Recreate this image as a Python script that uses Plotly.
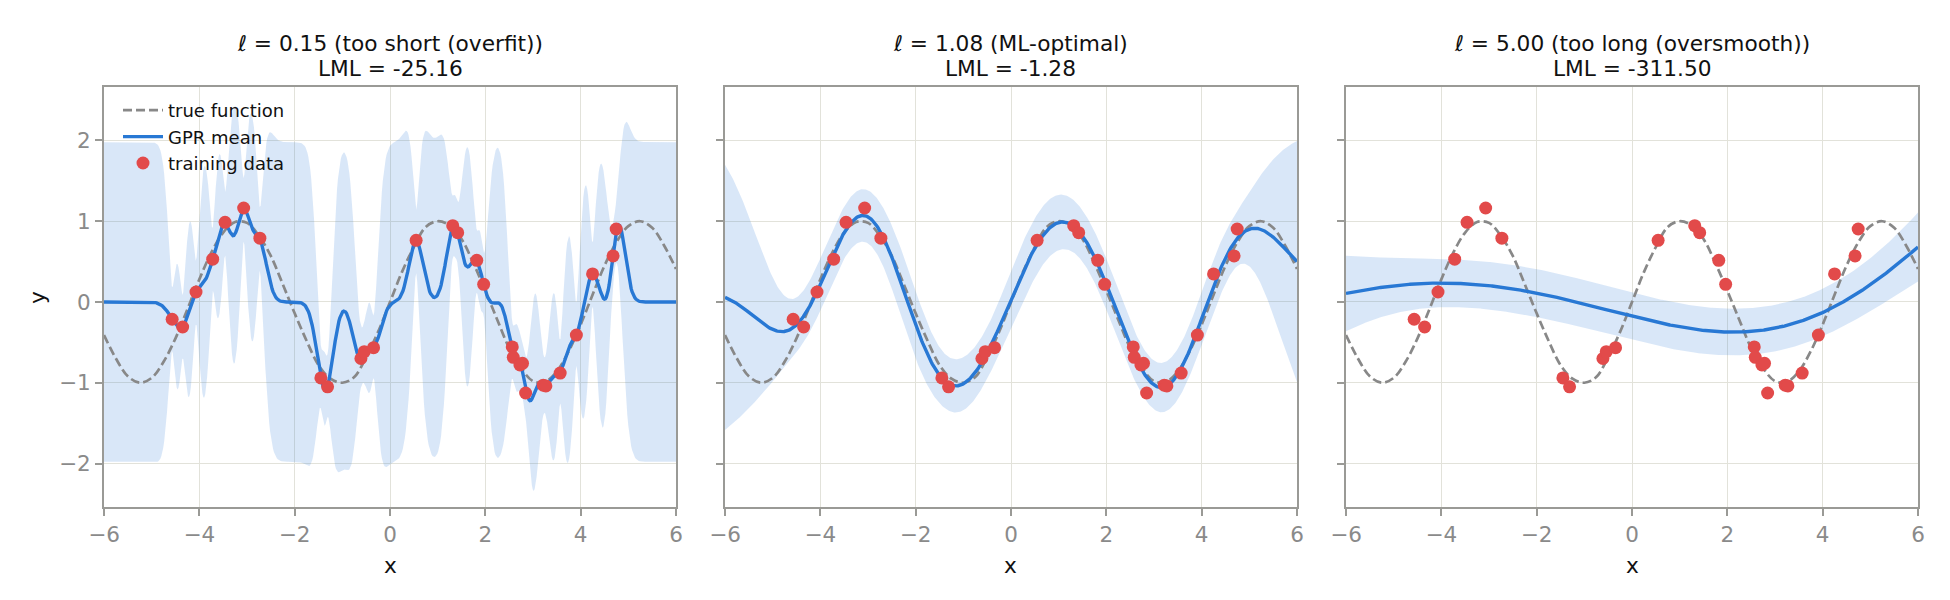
import numpy as np
import plotly.graph_objects as go

# ---- data ----
x_train = [-4.57, -4.35, -4.07, -3.72, -3.46, -3.07, -2.73, -1.45, -1.31, -0.61, -0.54, -0.345,
           0.548, 1.316, 1.42, 1.82, 1.965, 2.565, 2.586, 2.726, 2.78, 2.845, 3.215, 3.27,
           3.57, 3.91, 4.25, 4.68, 4.745]
y_train = [-0.214, -0.31, 0.124, 0.53, 0.987, 1.164, 0.79, -0.94, -1.05, -0.70, -0.615, -0.566,
           0.764, 0.945, 0.858, 0.516, 0.219, -0.557, -0.685, -0.78, -0.76, -1.127, -1.03, -1.04,
           -0.88, -0.41, 0.347, 0.57, 0.904]

# true function, values read at x = -6 .. 6 step 0.25
x_true = [-6.0 + 0.25 * i for i in range(49)]
y_true = [-0.41, -0.70, -0.92, -1.00, -0.94, -0.74, -0.45, -0.09, 0.28, 0.61, 0.86, 0.99,
          0.98, 0.82, 0.57, 0.22, -0.14, -0.48, -0.78, -0.95, -1.00, -0.93, -0.68, -0.37,
          0.00, 0.37, 0.68, 0.93, 1.00, 0.95, 0.78, 0.48, 0.14, -0.22, -0.57, -0.82,
          -0.98, -0.99, -0.86, -0.61, -0.28, 0.09, 0.45, 0.74, 0.94, 1.00, 0.92, 0.70, 0.41]

length_scales = [0.15, 1.08, 5.00]
panel_notes = ["too short (overfit)", "ML-optimal", "too long (oversmooth)"]
lml_values = ["-25.16", "-1.28", "-311.50"]
noise_var = 0.02
x_ticks = [-6, -4, -2, 0, 2, 4, 6]
y_ticks = [-2, -1, 0, 1, 2]

# ---- GP posterior (unit-variance RBF + white noise) from the training data ----
X = np.array(x_train)
Y = np.array(y_train)
xs = np.linspace(-6, 6, 600)


def gp(ls, nv):
    K = np.exp(-0.5 * (X[:, None] - X[None, :]) ** 2 / ls ** 2) + nv * np.eye(len(X))
    L = np.linalg.cholesky(K)
    a = np.linalg.solve(L.T, np.linalg.solve(L, Y))
    Ks = np.exp(-0.5 * (X[:, None] - xs[None, :]) ** 2 / ls ** 2)
    mu = Ks.T @ a
    v = np.linalg.solve(L, Ks)
    var = 1.0 - np.sum(v ** 2, axis=0) + nv
    sd = np.sqrt(np.maximum(var, 1e-12))
    return mu, sd


W, H = 1950, 600
left_px = [104, 725, 1346]
pw = 572
top_px, bot_px = 86.7, 506.7

BAND = "rgba(42,122,214,0.18)"
MEAN = "#2878d4"
PTS = "#e24a4a"
TRUE = "#888888"
GRID = "#e2e2da"
SPINE = "#9a9a96"
TICK = "#8a8a8a"
FONT = "DejaVu Sans"
TXT = "#111111"

fig = go.Figure()
for i, ls in enumerate(length_scales):
    mu, sd = gp(ls, noise_var)
    ax = "" if i == 0 else str(i + 1)
    xa, ya = "x" + ax, "y" + ax
    up = mu + 1.96 * sd
    lo = mu - 1.96 * sd
    fig.add_trace(go.Scatter(x=xs, y=up, mode="lines", line=dict(width=0, color=BAND),
                             showlegend=False, hoverinfo="skip", xaxis=xa, yaxis=ya))
    fig.add_trace(go.Scatter(x=xs, y=lo, mode="lines", line=dict(width=0, color=BAND),
                             fill="tonexty", fillcolor=BAND, showlegend=False,
                             hoverinfo="skip", xaxis=xa, yaxis=ya))
    fig.add_trace(go.Scatter(x=x_true, y=y_true, mode="lines", line_shape="spline",
                             line=dict(color=TRUE, width=2.7, dash="9px,4px"),
                             name="true function", showlegend=(i == 0), xaxis=xa, yaxis=ya))
    fig.add_trace(go.Scatter(x=xs, y=mu, mode="lines", line=dict(color=MEAN, width=3.4),
                             name="GPR mean", showlegend=(i == 0), xaxis=xa, yaxis=ya))
    fig.add_trace(go.Scatter(x=x_train, y=y_train, mode="markers",
                             marker=dict(color=PTS, size=13, line=dict(width=0)),
                             name="training data", showlegend=(i == 0), xaxis=xa, yaxis=ya))

    x0 = left_px[i] / W
    x1 = (left_px[i] + pw) / W
    common = dict(showline=True, mirror=True, linecolor=SPINE, linewidth=2,
                  showgrid=True, gridcolor=GRID, gridwidth=1, zeroline=False,
                  ticks="outside", ticklen=7, tickwidth=1.5, tickcolor=SPINE,
                  automargin=False,
                  tickfont=dict(family=FONT, size=21.5, color=TICK))
    fig.layout["xaxis" + ax] = dict(domain=[x0, x1], range=[-6, 6], tickvals=x_ticks,
                                    anchor=ya, **common)
    fig.layout["yaxis" + ax] = dict(domain=[1 - bot_px / H, 1 - top_px / H],
                                    range=[-2.535, 2.666], tickvals=y_ticks, anchor=xa,
                                    showticklabels=(i == 0), **common)
    cx = (left_px[i] + pw / 2) / W
    fig.add_annotation(x=cx, y=1 - 43.3 / H, xref="paper", yref="paper", showarrow=False,
                       text=f"<i>ℓ</i> = {ls:.2f} ({panel_notes[i]})",
                       font=dict(family=FONT, size=21.7, color=TXT),
                       xanchor="center", yanchor="middle")
    fig.add_annotation(x=cx, y=1 - 68.3 / H, xref="paper", yref="paper", showarrow=False,
                       text=f"LML = {lml_values[i]}",
                       font=dict(family=FONT, size=21.7, color=TXT),
                       xanchor="center", yanchor="middle")
    fig.add_annotation(x=cx, y=1 - 565 / H, xref="paper", yref="paper", showarrow=False,
                       text="x", font=dict(family=FONT, size=21.7, color=TXT),
                       xanchor="center", yanchor="middle")

fig.add_annotation(x=38 / W, y=1 - 298 / H, xref="paper", yref="paper", showarrow=False,
                   text="y", textangle=-90, font=dict(family=FONT, size=21.7, color=TXT),
                   xanchor="center", yanchor="middle")

fig.update_layout(width=W, height=H, margin=dict(l=0, r=0, t=0, b=0, autoexpand=False),
                  paper_bgcolor="white", plot_bgcolor="white",
                  font=dict(family=FONT),
                  legend=dict(x=118 / W, y=1 - 92 / H, xanchor="left", yanchor="top",
                              traceorder="normal",
                              bgcolor="rgba(0,0,0,0)", font=dict(family=FONT, size=18,
                                                                 color=TXT),
                              itemwidth=40, tracegroupgap=0))
fig.write_html("out.html")
